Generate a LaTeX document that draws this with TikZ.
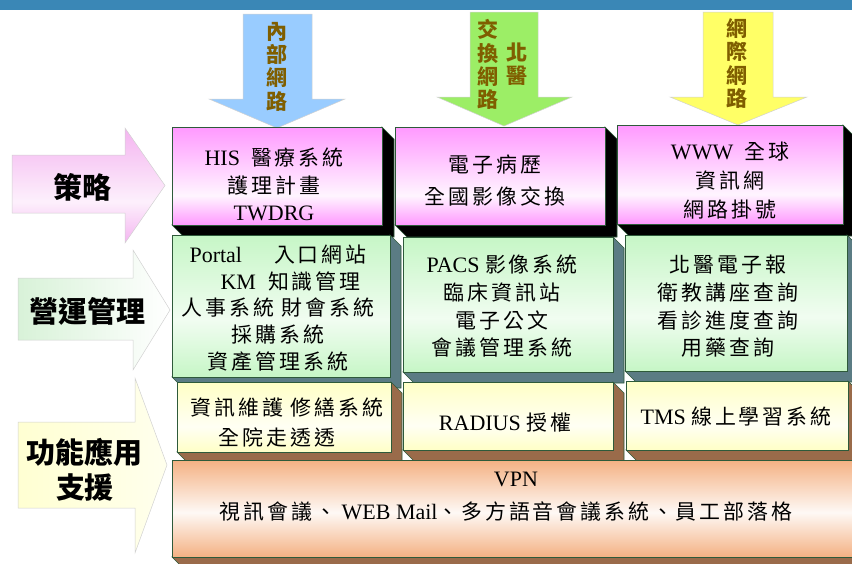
\documentclass[tikz,border=0pt]{standalone}
\usepackage{fontspec}
\setmainfont{Liberation Serif}
\newfontfamily\cjk{Noto Sans CJK TC}[Scale=0.95,LetterSpace=14]
\newfontfamily\cjkb{Noto Sans CJK TC}
\definecolor{barblue}{HTML}{3A87B6}
\definecolor{netblue}{HTML}{99CCFF}
\definecolor{netgreen}{HTML}{9CEE66}
\definecolor{netyellow}{HTML}{FFFF66}
\definecolor{netbrown}{HTML}{7F5E00}
\definecolor{edgegreen}{HTML}{2E5A3A}
\definecolor{boxpink}{HTML}{FF99FF}
\definecolor{boxgreen}{HTML}{C6F6C6}
\definecolor{boxyellow}{HTML}{FFFFC6}
\definecolor{boxorange}{HTML}{F4B183}
\definecolor{sideslate}{HTML}{5B7C84}
\definecolor{sidebrown}{HTML}{9A6B4A}
\definecolor{arrowpink}{HTML}{F4B4F0}
\definecolor{arrowgreen}{HTML}{D8F2D8}
\definecolor{arrowyellow}{HTML}{FFFFD2}
\pgfdeclareverticalshading{pinkbox}{100bp}{color(0bp)=(boxpink); color(25bp)=(boxpink); color(40bp)=(boxpink!10); color(75bp)=(boxpink); color(100bp)=(boxpink)}
\pgfdeclareverticalshading{greenbox}{100bp}{color(0bp)=(boxgreen); color(25bp)=(boxgreen); color(45bp)=(boxgreen!25); color(75bp)=(boxgreen); color(100bp)=(boxgreen)}
\pgfdeclareverticalshading{yellowbox}{100bp}{color(0bp)=(boxyellow); color(25bp)=(boxyellow); color(43bp)=(boxyellow!20); color(75bp)=(boxyellow); color(100bp)=(boxyellow)}
\pgfdeclareverticalshading{orangebox}{100bp}{color(0bp)=(boxorange); color(25bp)=(boxorange); color(48bp)=(boxorange!8); color(75bp)=(boxorange); color(100bp)=(boxorange)}
\pgfdeclareverticalshading{pinkarrow}{100bp}{color(0bp)=(arrowpink); color(25bp)=(arrowpink); color(43bp)=(arrowpink!20); color(75bp)=(arrowpink); color(100bp)=(arrowpink)}

\begin{document}
\begin{tikzpicture}[x=1pt,y=-1pt,
	front/.style={draw=edgegreen,line width=0.8pt},
	side/.style={draw=edgegreen,line width=0.6pt},
	blockarrow/.style={draw=black!18,line width=0.5pt},
	txt/.style={align=center,inner sep=0pt,font=\fontsize{22}{27.5}\selectfont},
	netlabel/.style={align=center,inner sep=0pt,text=netbrown,font=\fontsize{21}{23.3}\cjkb\bfseries},
	layerlabel/.style={align=center,inner sep=0pt,font=\fontsize{29}{35}\cjkb\bfseries}]
	\useasboundingbox (0,0) rectangle (852,563);
	\fill[barblue] (0,0) rectangle (852,10);

	\filldraw[blockarrow,fill=netblue] (243,14) -- (312,14) -- (312,99) -- (345,99) -- (277,128) -- (209,99) -- (243,99) -- cycle;
	\filldraw[blockarrow,fill=netgreen] (470,12) -- (538,12) -- (538,97) -- (572,97) -- (504,126) -- (437,97) -- (470,97) -- cycle;
	\filldraw[blockarrow,fill=netyellow] (703,12) -- (773,12) -- (773,97) -- (807,97) -- (738,125) -- (670,97) -- (703,97) -- cycle;
	\node[netlabel] (inner) at (277,66.5) {內\\部\\網\\路};
	\node[netlabel] (exchange) at (488,64.5) {交\\換\\網\\路};
	\node[netlabel] (tmu) at (517,64) {北\\醫};
	\node[netlabel] (internet) at (737,63.5) {網\\際\\網\\路};

	\shadedraw[blockarrow,shading=pinkarrow] (12,155) -- (125,155) -- (125,128) -- (165,185.5) -- (125,243) -- (125,213) -- (12,213) -- cycle;
	\shadedraw[blockarrow,left color=arrowgreen,right color=white] (18,278) -- (133,278) -- (133,250) -- (170,310) -- (133,370) -- (133,340) -- (18,340) -- cycle;
	\shadedraw[blockarrow,left color=arrowyellow,right color=arrowyellow!40] (18,422) -- (135,422) -- (135,378) -- (167,465) -- (135,553) -- (135,508) -- (18,508) -- cycle;
	\node[layerlabel] (strategy) at (82,187) {策略};
	\node[layerlabel] (operation) at (87,311) {營運管理};
	\node[layerlabel] (support) at (85,470) {功能應用\\支援};

	\filldraw[side,fill=black] (382,127) -- (394,139) -- (394,237) -- (184,237) -- (172,225) -- (382,225) -- cycle;
	\shadedraw[front,shading=pinkbox] (172,127) rectangle (382,225);
	\filldraw[side,fill=black] (605,127) -- (617,139) -- (617,237) -- (407,237) -- (395,225) -- (605,225) -- cycle;
	\shadedraw[front,shading=pinkbox] (395,127) rectangle (605,225);
	\filldraw[side,fill=black] (843,125) -- (855,137) -- (855,236) -- (629,236) -- (617,224) -- (843,224) -- cycle;
	\shadedraw[front,shading=pinkbox] (617,125) rectangle (843,224);
	\node[txt] (his) at (274,184.5) {HIS\ \ {\cjk 醫療系統}\\{\cjk 護理計畫}\\TWDRG};
	\node[txt,font=\fontsize{22}{32}\selectfont] (emr) at (495,181) {{\cjk 電子病歷}\\{\cjk 全國影像交換}};
	\node[txt,font=\fontsize{22}{29}\selectfont] (www) at (730,181) {WWW\ \ {\cjk 全球}\\{\cjk 資訊網}\\{\cjk 網路掛號}};

	\filldraw[side,fill=sideslate] (390,235) -- (401,246) -- (401,388) -- (183,388) -- (172,377) -- (390,377) -- cycle;
	\shadedraw[front,shading=greenbox] (172,235) rectangle (390,377);
	\filldraw[side,fill=sideslate] (613,237) -- (624,248) -- (624,383) -- (414,383) -- (403,372) -- (613,372) -- cycle;
	\shadedraw[front,shading=greenbox] (403,237) rectangle (613,372);
	\filldraw[side,fill=sideslate] (847,235) -- (858,246) -- (858,382) -- (636,382) -- (625,371) -- (847,371) -- cycle;
	\shadedraw[front,shading=greenbox] (625,235) rectangle (847,371);
	\node[txt,font=\fontsize{22}{26.75}\selectfont] (portal) at (278,308) {Portal\hspace{32pt}{\cjk 入口網站}\\\hspace*{25pt}KM\hspace{12pt}{\cjk 知識管理}\\{\cjk 人事系統 財會系統}\\{\cjk 採購系統}\\{\cjk 資產管理系統}};
	\node[txt,font=\fontsize{22}{27.7}\selectfont] (pacs) at (502,306.5) {PACS {\cjk 影像系統}\\{\cjk 臨床資訊站}\\{\cjk 電子公文}\\{\cjk 會議管理系統}};
	\node[txt,font=\fontsize{22}{27.7}\selectfont] (news) at (728,306.5) {{\cjk 北醫電子報}\\{\cjk 衛教講座查詢}\\{\cjk 看診進度查詢}\\{\cjk 用藥查詢}};

	\filldraw[side,fill=sidebrown] (391,382) -- (402,393) -- (402,463) -- (188,463) -- (177,452) -- (391,452) -- cycle;
	\shadedraw[front,shading=yellowbox] (177,382) rectangle (391,452);
	\filldraw[side,fill=sidebrown] (613,382) -- (624,393) -- (624,461) -- (414,461) -- (403,450) -- (613,450) -- cycle;
	\shadedraw[front,shading=yellowbox] (403,382) rectangle (613,450);
	\filldraw[side,fill=sidebrown] (848,381) -- (859,392) -- (859,461) -- (637,461) -- (626,450) -- (848,450) -- cycle;
	\shadedraw[front,shading=yellowbox] (626,381) rectangle (848,450);
	\node[txt,font=\fontsize{22}{30}\selectfont] (repair) at (287,423) {{\cjk 資訊維護 修繕系統}\\{\cjk 全院走透透}\hspace*{20pt}};
	\node[txt] (radius) at (505,423) {RADIUS {\cjk 授權}};
	\node[txt] (tms) at (736,417) {TMS {\cjk 線上學習系統}};

	\filldraw[side,fill=sidebrown] (172,557) -- (182,567) -- (880,567) -- (880,557) -- cycle;
	\shadedraw[front,shading=orangebox] (172,460) rectangle (870,557);
	\node[txt,font=\fontsize{22}{33}\selectfont] (vpn) at (506,496.5) {\hspace*{20pt}VPN\\{\cjk 視訊會議、}\ WEB Mail{\cjk 、多方語音會議系統、員工部落格}};
\end{tikzpicture}
\end{document}
